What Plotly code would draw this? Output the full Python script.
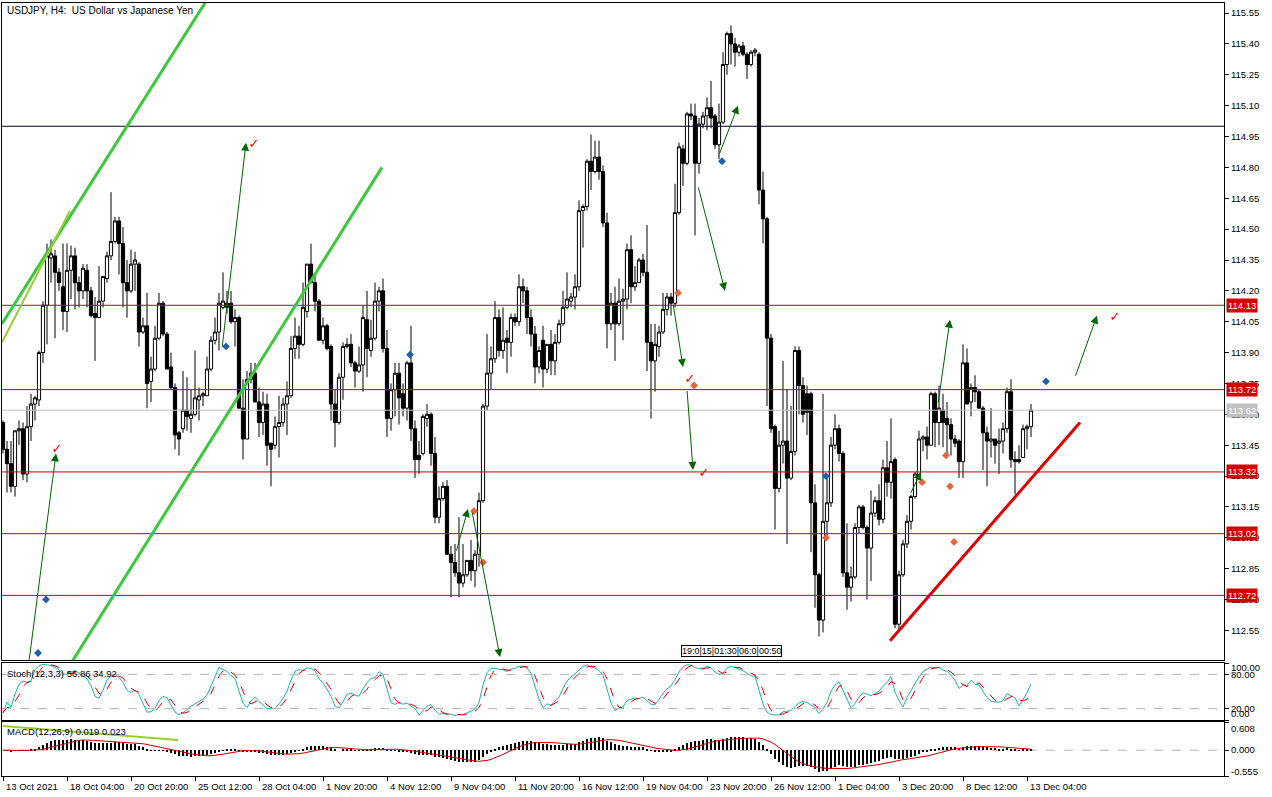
import pandas as pd
import plotly.graph_objects as go
from plotly.subplots import make_subplots

TITLE = "USDJPY, H4:  US Dollar vs Japanese Yen"
STOCH_LABEL = "Stoch(12,3,3) 56.86 34.92"
MACD_LABEL = "MACD(12,26,9) 0.019 0.023"
BOX_LABEL = "19:0|15|01:30|06:0|00:50"

open_ = [
    113.56,113.43,113.36,113.25,113.52,113.53,113.31,113.54,113.65,113.67,
    113.90,114.13,114.36,114.37,114.29,114.22,114.10,114.30,114.37,114.24,
    114.20,114.30,114.20,114.09,114.07,114.15,114.26,114.37,114.44,114.54,
    114.43,114.24,114.20,114.33,114.33,114.00,114.03,113.76,113.82,113.97,
    114.14,113.99,113.83,113.73,113.51,113.53,113.62,113.58,113.60,113.67,
    113.69,113.69,113.82,113.96,114.00,114.12,114.14,114.14,114.05,114.07,
    113.63,113.48,113.77,113.80,113.66,113.56,113.65,113.46,113.45,113.54,
    113.56,113.65,113.69,113.92,113.98,113.94,114.10,114.33,114.24,114.15,
    113.96,114.03,113.93,113.65,113.56,113.78,113.93,113.94,113.85,113.81,
    113.84,114.06,113.91,113.97,114.15,114.20,113.92,113.58,113.72,113.80,
    113.70,113.63,113.85,113.53,113.40,113.41,113.58,113.60,113.41,113.10,
    113.19,113.25,112.92,112.88,112.83,112.78,112.82,112.89,112.84,112.92,
    113.18,113.64,113.80,113.87,114.07,113.91,113.97,113.95,114.07,114.05,
    114.22,114.20,114.07,113.99,113.83,113.96,113.82,113.94,113.86,113.95,
    114.04,114.12,114.15,114.17,114.22,114.59,114.61,114.83,114.78,114.85,
    114.78,114.53,114.04,114.14,114.04,114.15,114.16,114.40,114.22,114.24,
    114.35,114.29,113.95,113.86,113.93,114.00,114.11,114.17,114.14,114.58,
    114.89,114.82,115.06,115.05,114.82,115.01,115.05,115.09,115.05,114.91,
    115.02,115.30,115.45,115.40,115.36,115.39,115.35,115.30,115.36,115.35,
    114.69,114.55,113.97,113.54,113.24,113.45,113.47,113.29,113.42,113.91,
    113.74,113.70,113.70,113.17,112.82,112.60,113.08,113.17,113.45,113.53,
    113.41,112.83,112.76,112.81,113.05,113.15,113.05,112.95,113.12,113.18,
    113.09,113.34,113.27,113.38,112.58,112.82,112.97,113.08,113.20,113.30,
    113.48,113.49,113.45,113.70,113.56,113.62,113.58,113.55,113.48,113.47,
    113.37,113.85,113.66,113.73,113.71,113.63,113.51,113.47,113.48,113.46,
    113.47,113.53,113.71,113.38,113.38,113.39,113.53,113.54,
]
high = [
    113.57,113.47,113.47,113.52,113.57,113.56,113.64,113.70,113.69,113.91,
    114.15,114.43,114.45,114.40,114.31,114.43,114.43,114.42,114.41,114.27,
    114.33,114.33,114.22,114.17,114.32,114.27,114.39,114.68,114.56,114.56,
    114.51,114.35,114.40,114.39,114.34,114.07,114.19,113.88,114.03,114.19,
    114.15,114.00,113.90,113.75,113.52,113.81,113.78,113.72,113.91,113.73,
    113.71,113.88,113.98,114.07,114.19,114.29,114.20,114.20,114.11,114.08,
    113.77,113.81,113.85,113.85,113.73,113.71,113.70,113.46,113.59,113.69,
    113.68,113.76,113.98,114.07,114.03,114.24,114.33,114.43,114.28,114.16,
    114.07,114.04,113.94,113.72,113.80,113.95,113.97,113.99,113.86,113.93,
    114.13,114.20,114.06,114.24,114.22,114.26,114.01,113.75,113.85,113.85,
    113.75,113.86,114.03,113.57,113.47,113.60,113.65,113.61,113.49,113.25,
    113.27,113.28,112.96,112.97,113.10,112.97,112.89,112.99,112.94,113.22,
    113.65,113.99,113.93,114.15,114.11,114.12,114.01,114.09,114.09,114.28,
    114.26,114.22,114.11,114.03,113.93,114.03,113.94,114.01,113.99,114.06,
    114.20,114.29,114.19,114.28,114.64,114.62,114.84,114.96,114.93,114.93,
    114.81,114.58,114.19,114.22,114.26,114.21,114.43,114.47,114.32,114.36,
    114.38,114.52,114.04,114.04,114.03,114.19,114.19,114.19,114.72,114.92,
    114.91,115.07,115.11,115.11,115.04,115.07,115.14,115.22,115.06,115.11,
    115.36,115.46,115.49,115.43,115.40,115.41,115.36,115.37,115.38,115.36,
    114.78,114.56,113.99,113.55,113.52,113.86,113.72,113.64,113.93,113.93,
    113.78,113.74,113.71,113.26,112.83,113.70,113.30,113.49,113.60,113.55,
    113.42,113.07,112.86,113.07,113.16,113.16,113.06,113.23,113.20,113.26,
    113.38,113.47,113.58,113.39,112.84,112.99,113.11,113.21,113.32,113.52,
    113.50,113.54,113.71,113.71,113.74,113.70,113.66,113.58,113.50,113.48,
    113.94,113.92,113.75,113.79,113.72,113.64,113.54,113.63,113.48,113.53,
    113.56,113.73,113.77,113.42,113.45,113.55,113.55,113.65,
]
low = [
    113.41,113.22,113.22,113.20,113.45,113.28,113.27,113.47,113.57,113.64,
    113.85,113.94,114.24,113.97,114.20,114.01,114.00,114.16,114.11,114.12,
    114.16,114.12,114.07,113.86,114.07,114.12,114.24,114.35,114.43,114.28,
    114.12,114.07,114.19,114.20,113.93,113.99,113.63,113.66,113.81,113.96,
    113.98,113.82,113.72,113.43,113.40,113.51,113.52,113.51,113.59,113.57,
    113.64,113.69,113.81,113.94,113.91,114.11,114.09,114.04,113.93,113.63,
    113.38,113.48,113.75,113.66,113.49,113.50,113.35,113.25,113.43,113.39,
    113.54,113.50,113.68,113.87,113.87,113.93,114.07,114.24,114.10,113.96,
    113.94,113.91,113.57,113.44,113.55,113.67,113.92,113.83,113.73,113.80,
    113.71,113.78,113.88,113.96,114.10,113.90,113.49,113.52,113.59,113.55,
    113.59,113.57,113.47,113.29,113.31,113.40,113.54,113.35,113.07,113.07,
    113.18,112.92,112.71,112.81,112.71,112.76,112.81,112.79,112.76,112.86,
    113.17,113.62,113.72,113.85,113.88,113.87,113.80,113.88,114.03,114.03,
    114.14,113.99,113.93,113.75,113.80,113.73,113.80,113.79,113.79,113.94,
    114.03,114.11,114.12,114.11,114.20,114.41,114.59,114.69,114.77,114.74,
    114.51,113.92,114.01,113.86,114.03,113.96,114.11,114.14,114.20,114.24,
    114.27,113.81,113.58,113.71,113.88,113.99,114.08,114.08,114.12,114.57,
    114.71,114.81,115.03,114.47,114.77,114.99,114.98,114.99,114.89,114.84,
    115.01,115.25,115.30,115.29,115.34,115.34,115.23,115.29,115.34,114.62,
    114.43,113.64,113.51,113.04,113.22,113.36,112.97,113.28,113.40,113.60,
    113.56,113.50,112.93,112.66,112.52,112.54,113.01,113.15,113.43,113.37,
    112.81,112.65,112.69,112.80,113.02,113.04,112.70,112.79,113.10,113.06,
    113.07,113.20,113.19,112.56,112.55,112.81,112.95,113.04,113.19,113.28,
    113.42,113.38,113.45,113.44,113.45,113.44,113.41,113.40,113.44,113.29,
    113.29,113.65,113.59,113.66,113.63,113.33,113.25,113.39,113.36,113.31,
    113.41,113.51,113.34,113.21,113.36,113.39,113.43,113.49,
]
close = [
    113.43,113.36,113.25,113.52,113.53,113.31,113.54,113.65,113.68,113.90,
    114.13,114.37,114.38,114.29,114.24,114.10,114.30,114.37,114.24,114.20,
    114.31,114.20,114.08,114.07,114.15,114.27,114.37,114.44,114.54,114.43,
    114.24,114.20,114.33,114.35,114.00,114.03,113.75,113.82,113.97,114.14,
    113.99,113.82,113.73,113.50,113.48,113.62,113.59,113.60,113.68,113.69,
    113.70,113.82,113.96,114.00,114.14,114.15,114.12,114.05,114.07,113.63,
    113.48,113.77,113.80,113.66,113.56,113.65,113.45,113.43,113.54,113.56,
    113.65,113.69,113.92,113.98,113.94,114.12,114.33,114.24,114.15,113.96,
    114.03,113.92,113.65,113.56,113.78,113.93,113.94,113.85,113.81,113.84,
    114.07,113.92,113.97,114.15,114.20,113.92,113.58,113.72,113.80,113.68,
    113.63,113.85,113.53,113.38,113.38,113.59,113.60,113.41,113.10,113.19,
    113.25,112.92,112.88,112.83,112.78,112.82,112.89,112.84,112.92,113.18,
    113.64,113.80,113.87,114.07,113.91,113.96,113.95,114.07,114.05,114.22,
    114.20,114.07,113.99,113.83,113.91,113.82,113.94,113.86,113.95,114.04,
    114.12,114.16,114.17,114.22,114.59,114.61,114.83,114.78,114.85,114.78,
    114.53,114.04,114.14,114.04,114.15,114.16,114.40,114.22,114.24,114.35,
    114.29,113.95,113.86,113.94,114.00,114.11,114.17,114.14,114.58,114.90,
    114.82,115.06,115.05,114.82,115.01,115.05,115.09,115.04,114.91,115.02,
    115.30,115.45,115.40,115.36,115.39,115.35,115.30,115.36,115.37,114.69,
    114.55,113.97,113.53,113.24,113.45,113.47,113.29,113.42,113.91,113.74,
    113.60,113.61,113.17,112.82,112.60,113.08,113.17,113.45,113.53,113.41,
    112.83,112.76,112.81,113.05,113.15,113.05,112.95,113.12,113.18,113.09,
    113.34,113.27,113.37,112.58,112.82,112.97,113.08,113.20,113.31,113.48,
    113.49,113.45,113.70,113.56,113.63,113.56,113.55,113.48,113.46,113.37,
    113.85,113.65,113.73,113.71,113.63,113.51,113.47,113.48,113.45,113.47,
    113.53,113.71,113.38,113.37,113.37,113.53,113.54,113.62,
]
bars = list(range(len(close)))

date_tick_bars = [0, 16, 32, 48, 64, 80, 96, 112, 128, 144, 160, 176, 192, 208, 224, 240, 256]
date_tick_labels = ["13 Oct 2021", "18 Oct 04:00", "20 Oct 20:00", "25 Oct 12:00", "28 Oct 04:00",
                    "1 Nov 20:00", "4 Nov 12:00", "9 Nov 04:00", "11 Nov 20:00", "16 Nov 12:00",
                    "19 Nov 04:00", "23 Nov 20:00", "26 Nov 12:00", "1 Dec 04:00", "3 Dec 20:00",
                    "8 Dec 12:00", "13 Dec 04:00"]
price_ticks = [112.55, 112.70, 112.85, 113.00, 113.15, 113.30, 113.45, 113.60, 113.75, 113.90,
               114.05, 114.20, 114.35, 114.50, 114.65, 114.80, 114.95, 115.10, 115.25, 115.40, 115.55]
level_prices = [114.13, 113.72, 113.32, 113.02, 112.72]
bid_price = 113.62
round_level = 115.00

stoch_levels = [0, 20, 80, 100]
stoch_level_text = ["0.00", "20.00", "80.00", "100.00"]
stoch_label_px = [713, 708, 674, 667]          # where MT4 prints the level labels
macd_levels = [-0.555, 0.0, 0.608]
macd_level_text = ["-0.555", "0.000", "0.608"]
macd_label_px = [771, 749, 728]

# drawn objects (bar index, price)
channel_x0 = [-0.25, 17.0]
channel_y0 = [114.04, 112.39]
channel_x1 = [51.5, 94.75]
channel_y1 = [115.63, 114.80]
yg_line = [(-0.25, 113.95), (16.75, 114.59)]
red_trend = [(221.75, 112.50), (269.25, 113.56)]
macd_trend = [(0, 0.52), (43.75, 0.22)]

arrow_tail_bar = [6.5, 54.75, 113.25, 117.25, 167.5, 171.0, 173.75, 179.0, 226.75, 233.75, 268.0]
arrow_tail_price = [112.40, 113.92, 112.93, 113.13, 114.14, 113.72, 114.71, 114.86, 113.21, 113.65, 113.78]
arrow_head_bar = [13.25, 60.75, 116.25, 124.25, 170.0, 172.5, 180.5, 183.75, 229.5, 236.75, 273.5]
arrow_head_price = [113.41, 114.92, 113.14, 112.42, 113.83, 113.33, 114.20, 115.10, 113.32, 114.06, 114.08]

check_bar = [13.5, 62.75, 171.75, 175.25, 278.0]
check_price = [113.43, 114.91, 113.77, 113.31, 114.07]

blue_bar = [10.75, 8.75, 55.75, 101.75, 179.75, 205.75, 260.75]
blue_price = [112.70, 112.44, 113.93, 113.89, 114.83, 113.30, 113.76]
orange_bar = [117.75, 120.0, 168.75, 172.75, 205.75, 229.75, 235.75, 236.75, 237.75]
orange_price = [113.13, 112.88, 114.19, 113.74, 113.00, 113.27, 113.40, 113.25, 112.98]

# indicators computed from the candles
c = pd.Series(close); h = pd.Series(high); l = pd.Series(low)
ll = l.rolling(12, min_periods=1).min()
hh = h.rolling(12, min_periods=1).max()
k_line = 100 * (c - ll).rolling(3, min_periods=1).sum() / (hh - ll).rolling(3, min_periods=1).sum()
d_line = k_line.rolling(3, min_periods=1).mean()
macd = c.ewm(span=12, adjust=False).mean() - c.ewm(span=26, adjust=False).mean()
signal = macd.rolling(9, min_periods=1).mean()

FONT = "Liberation Sans, Arial, sans-serif"
FS = 9.5
PLOT_TOP, PLOT_BOTTOM = 3, 776
PLOT_H = PLOT_BOTTOM - PLOT_TOP


def paper_y(px):
    return (PLOT_BOTTOM - px) / PLOT_H


fig = make_subplots(rows=3, cols=1, shared_xaxes=True, vertical_spacing=0.0)

fig.add_trace(go.Candlestick(
    x=bars, open=open_, high=high, low=low, close=close,
    increasing=dict(line=dict(color="black", width=1), fillcolor="white"),
    decreasing=dict(line=dict(color="black", width=1), fillcolor="black"),
    whiskerwidth=0, showlegend=False, hoverinfo="skip"), row=1, col=1)

fig.add_trace(go.Scatter(x=blue_bar, y=blue_price, mode="markers",
                         marker=dict(symbol="diamond", size=6, color="#1f5fa8"),
                         showlegend=False, hoverinfo="skip"), row=1, col=1)
fig.add_trace(go.Scatter(x=orange_bar, y=orange_price, mode="markers",
                         marker=dict(symbol="diamond", size=6, color="#e8643c"),
                         showlegend=False, hoverinfo="skip"), row=1, col=1)
fig.add_trace(go.Scatter(x=check_bar, y=check_price, mode="text", text=["✓"] * len(check_bar),
                         textfont=dict(color="#e00000", size=13, family="DejaVu Sans"),
                         showlegend=False, hoverinfo="skip"), row=1, col=1)

fig.add_trace(go.Scatter(x=bars, y=k_line, mode="lines", line=dict(color="#20b2aa", width=1),
                         showlegend=False, hoverinfo="skip"), row=2, col=1)
fig.add_trace(go.Scatter(x=bars, y=d_line, mode="lines", line=dict(color="#e00000", width=1, dash="dash"),
                         showlegend=False, hoverinfo="skip"), row=2, col=1)

fig.add_trace(go.Bar(x=bars, y=macd, marker=dict(color="black", line=dict(width=0)), width=0.45,
                     showlegend=False, hoverinfo="skip"), row=3, col=1)
fig.add_trace(go.Scatter(x=bars, y=signal, mode="lines", line=dict(color="#d00000", width=1),
                         showlegend=False, hoverinfo="skip"), row=3, col=1)

shapes = []
shapes.append(dict(type="line", xref="x domain", yref="y", x0=0, x1=1, y0=round_level, y1=round_level,
                   line=dict(color="#000028", width=1)))
shapes.append(dict(type="line", xref="x domain", yref="y", x0=0, x1=1, y0=bid_price, y1=bid_price,
                   line=dict(color="#c0c0c0", width=1)))
for p in level_prices:
    shapes.append(dict(type="line", xref="x domain", yref="y", x0=0, x1=1, y0=p, y1=p,
                       line=dict(color="#cc0000", width=1)))
for i in range(len(channel_x0)):
    shapes.append(dict(type="line", xref="x", yref="y", x0=channel_x0[i], y0=channel_y0[i],
                       x1=channel_x1[i], y1=channel_y1[i], line=dict(color="#3cc83c", width=3)))
shapes.append(dict(type="line", xref="x", yref="y", x0=yg_line[0][0], y0=yg_line[0][1],
                   x1=yg_line[1][0], y1=yg_line[1][1], line=dict(color="#9acd32", width=2)))
shapes.append(dict(type="line", xref="x", yref="y", x0=red_trend[0][0], y0=red_trend[0][1],
                   x1=red_trend[1][0], y1=red_trend[1][1], line=dict(color="#e00000", width=3)))
for lv in [20, 80]:
    shapes.append(dict(type="line", xref="x2 domain", yref="y2", x0=0, x1=1, y0=lv, y1=lv,
                       line=dict(color="#b4b4b4", width=1, dash="dash")))
shapes.append(dict(type="line", xref="x3 domain", yref="y3", x0=0, x1=1, y0=0, y1=0,
                   line=dict(color="#b4b4b4", width=1, dash="dash"), layer="below"))
shapes.append(dict(type="line", xref="x3", yref="y3", x0=macd_trend[0][0], y0=macd_trend[0][1],
                   x1=macd_trend[1][0], y1=macd_trend[1][1], line=dict(color="#9acd32", width=2)))

annotations = []
for i in range(len(arrow_head_bar)):
    annotations.append(dict(x=arrow_head_bar[i], y=arrow_head_price[i], xref="x", yref="y",
                            ax=arrow_tail_bar[i], ay=arrow_tail_price[i], axref="x", ayref="y",
                            text="", showarrow=True, arrowhead=2, arrowsize=1.6, arrowwidth=1,
                            arrowcolor="#006400", standoff=0))
for p in level_prices:
    annotations.append(dict(x=1, xref="paper", y=p, yref="y", xanchor="left", xshift=2,
                            text=f"{p:.2f}", showarrow=False, bgcolor="#d40000", borderpad=1,
                            font=dict(color="white", size=FS, family=FONT)))
annotations.append(dict(x=1, xref="paper", y=bid_price, yref="y", xanchor="left", xshift=2,
                        text=f"{bid_price:.2f}", showarrow=False, bgcolor="#c0c0c0", borderpad=1,
                        font=dict(color="white", size=FS, family=FONT)))
for t, px in zip(stoch_level_text + macd_level_text, stoch_label_px + macd_label_px):
    annotations.append(dict(x=1, xref="paper", y=paper_y(px), yref="paper", xanchor="left",
                            yanchor="middle", xshift=5, text=t, showarrow=False,
                            font=dict(color="black", size=FS, family=FONT)))
annotations.append(dict(x=0, xref="paper", y=paper_y(10), yref="paper", xanchor="left", yanchor="middle",
                        xshift=3, text=TITLE, showarrow=False, font=dict(color="black", size=10, family=FONT)))
annotations.append(dict(x=0, xref="paper", y=paper_y(673), yref="paper", xanchor="left", yanchor="middle",
                        xshift=3, text=STOCH_LABEL, showarrow=False, font=dict(color="black", size=FS, family=FONT)))
annotations.append(dict(x=0, xref="paper", y=paper_y(731), yref="paper", xanchor="left", yanchor="middle",
                        xshift=3, text=MACD_LABEL, showarrow=False, font=dict(color="black", size=FS, family=FONT)))
annotations.append(dict(x=182, xref="x", y=112.452, yref="y", text=BOX_LABEL, showarrow=False,
                        bordercolor="black", borderwidth=1, borderpad=0, bgcolor="white",
                        font=dict(color="black", size=9, family=FONT)))
for b, t in zip(date_tick_bars, date_tick_labels):
    annotations.append(dict(x=b, xref="x3", y=paper_y(786), yref="paper", xanchor="left",
                            yanchor="middle", xshift=1, text=t, showarrow=False,
                            font=dict(color="black", size=FS, family=FONT)))

axis_common = dict(showgrid=False, zeroline=False, showline=True, mirror=True, linecolor="black",
                   linewidth=1, fixedrange=True, automargin=False)
xr = [-0.25, 305.25]

fig.update_layout(
    width=1272, height=797,
    margin=dict(l=2, r=48, t=PLOT_TOP, b=797 - PLOT_BOTTOM, autoexpand=False),
    paper_bgcolor="white", plot_bgcolor="white",
    showlegend=False, boxgap=0.2, boxgroupgap=0.0, bargap=0,
    shapes=shapes, annotations=annotations,
    font=dict(family=FONT, size=FS, color="black"),
    xaxis=dict(range=xr, showticklabels=False, ticks="", rangeslider=dict(visible=False), **axis_common),
    xaxis2=dict(range=xr, showticklabels=False, ticks="", **axis_common),
    xaxis3=dict(range=xr, showticklabels=False, ticks="outside", ticklen=4, tickcolor="black",
                tickvals=date_tick_bars, **axis_common),
    yaxis=dict(domain=[paper_y(660), 1.0], range=[112.406, 115.599], side="right",
               tickvals=price_ticks, ticktext=[f"{v:.2f}" for v in price_ticks],
               ticks="outside", ticklen=4, tickcolor="black", tickfont=dict(size=FS), **axis_common),
    yaxis2=dict(domain=[paper_y(720), paper_y(663)], range=[0, 100], side="right",
                tickvals=stoch_levels, showticklabels=False,
                ticks="outside", ticklen=4, tickcolor="black", **axis_common),
    yaxis3=dict(domain=[0.0, paper_y(722)], range=[-0.555, 0.608], side="right",
                tickvals=macd_levels, showticklabels=False,
                ticks="outside", ticklen=4, tickcolor="black", **axis_common),
)

fig.write_html("out.html", config={"displayModeBar": False},
               post_script="document.body.style.margin='0';document.body.style.overflow='hidden';")
